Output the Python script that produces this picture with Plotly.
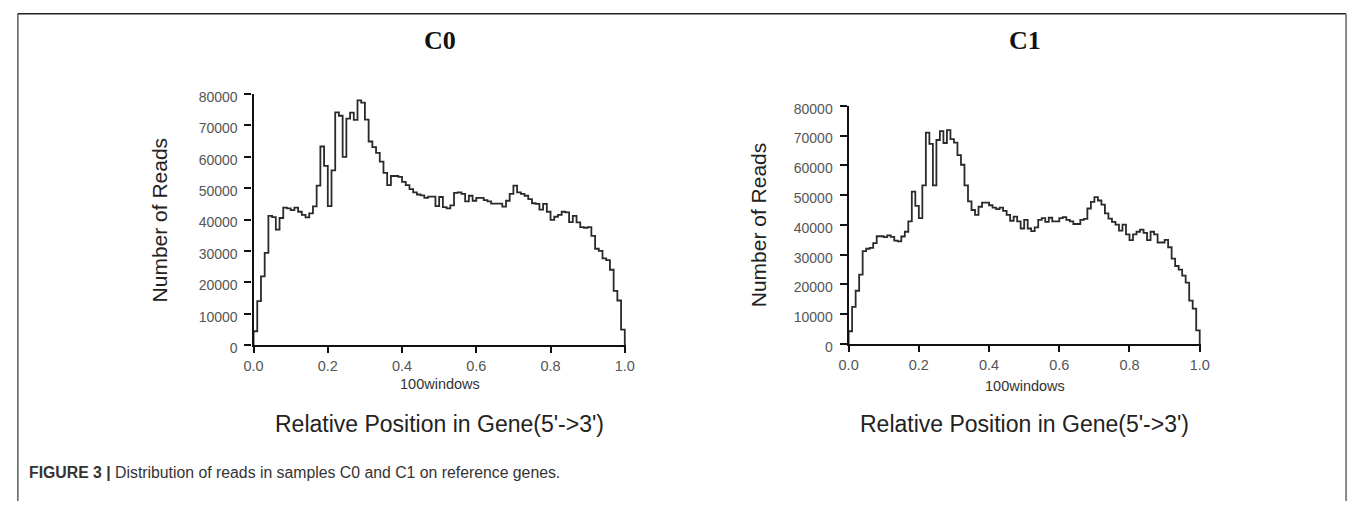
import numpy as np
import plotly.graph_objects as go

# ---------------- data (reads per window, 100 windows) ----------------
c0_reads = [
    4400, 14000, 21900, 29400, 41200, 40800, 36800, 40500, 43800, 43600,
    43000, 43800, 42500, 41500, 40700, 42000, 44200, 50800, 63300, 57100,
    44300, 55700, 74200, 73100, 60000, 72200, 74100, 71800, 78000, 77300,
    71900, 64900, 63100, 61300, 58500, 54900, 51000, 53900, 53900, 53600,
    52000, 51000, 49700, 48700, 48000, 47700, 46900, 47300, 47300, 44300,
    47200, 44000, 43600, 44500, 48500, 48700, 48200, 45800, 47600, 46000,
    46900, 46900, 46200, 45800, 45100, 45100, 45100, 44100, 46000, 48200,
    50800, 48700, 48200, 47600, 46500, 45200, 45000, 43200, 45000, 42500,
    39900, 40900, 41500, 42500, 42300, 39200, 41200, 39100, 37600, 37400,
    37600, 34800, 30700, 30000, 27600, 27100, 24000, 17300, 14200, 4900,
]

c1_reads = [
    4300, 12500, 17900, 23300, 31200, 32000, 32300, 33900, 36200, 36200,
    35900, 36500, 36000, 34700, 34500, 36100, 37700, 41200, 51200, 46400,
    42300, 53300, 71000, 67200, 53300, 68500, 71500, 67500, 71800, 68800,
    67600, 63400, 60200, 53300, 47900, 45000, 43400, 46100, 47500, 47500,
    46600, 45800, 45300, 45800, 44700, 43400, 41400, 42800, 41200, 38800,
    41700, 38800, 37900, 39200, 41700, 42300, 41000, 42400, 41200, 41200,
    42300, 42600, 41700, 41200, 40300, 40300, 41700, 42000, 45500, 47700,
    49300, 48200, 46800, 43900, 42100, 41000, 40100, 38100, 40100, 36800,
    34900, 36800, 37700, 38400, 37300, 34900, 37700, 36800, 34100, 34100,
    35000, 32500, 28700, 26200, 25000, 23000, 20600, 14600, 11900, 4600,
]

panel_titles = ["C0", "C1"]
n_windows = 100
x_ticks = [0.0, 0.2, 0.4, 0.6, 0.8, 1.0]
x_tick_text = ["0.0", "0.2", "0.4", "0.6", "0.8", "1.0"]
y_ticks = [0, 10000, 20000, 30000, 40000, 50000, 60000, 70000, 80000]
y_tick_text = [str(v) for v in y_ticks]
caption_bold = "FIGURE 3 |"
caption_text = " Distribution of reads in samples C0 and C1 on reference genes."

# ---------------- figure ----------------
W, H = 1360, 512
edges = list(np.arange(n_windows) / n_windows)

fig = go.Figure()


def step_trace(vals, xa, ya):
    xs = [0.0] + edges + [1.0]
    ys = [0] + list(vals) + [0]
    return go.Scatter(x=xs, y=ys, mode="lines", line_shape="hv",
                      line=dict(color="#2a2a2a", width=1.8),
                      xaxis=xa, yaxis=ya, showlegend=False, hoverinfo="skip")


fig.add_trace(step_trace(c0_reads, "x", "y"))
fig.add_trace(step_trace(c1_reads, "x2", "y2"))

# pixel geometry of the two panels
panels = [
    dict(x0=247, x1=625, ytop=92, ybot=351),
    dict(x0=850.5, x1=1208, ytop=104, ybot=350),
]

tickfont_x = dict(family="Liberation Sans, Arial", size=14.5, color="#555555")
tickfont_y = dict(family="Liberation Sans, Arial", size=14, color="#555555")

layout = dict(
    width=W, height=H,
    margin=dict(l=0, r=0, t=0, b=0),
    paper_bgcolor="white", plot_bgcolor="white",
    showlegend=False,
)

for i, p in enumerate(panels):
    sx = "" if i == 0 else str(i + 1)
    layout["xaxis" + sx] = dict(
        domain=[p["x0"] / W, p["x1"] / W],
        range=[0, 1.004],
        anchor="y" + sx,
        showgrid=False, zeroline=False,
        showline=True, linecolor="#111111", linewidth=2.2,
        ticks="outside", ticklen=6, tickwidth=1.5, tickcolor="#111111",
        tickvals=x_ticks, ticktext=x_tick_text, tickfont=tickfont_x,
        fixedrange=True,
    )
    layout["yaxis" + sx] = dict(
        domain=[(H - p["ybot"]) / H, (H - p["ytop"]) / H],
        range=[0, 80000],
        anchor="x" + sx,
        showgrid=False, zeroline=False,
        showline=True, linecolor="#111111", linewidth=2.2,
        ticks="outside", ticklen=7, tickwidth=1.5, tickcolor="#111111",
        tickvals=y_ticks, ticktext=y_tick_text, tickfont=tickfont_y,
        ticklabelshift=3, ticklabelstandoff=4,
        fixedrange=True,
    )

fig.update_layout(**layout)

ann = []
for i, p in enumerate(panels):
    cx = (p["x0"] + p["x1"]) / 2 / W
    ann.append(dict(text="<b>%s</b>" % panel_titles[i], x=cx, y=1 - 37 / H,
                    xref="paper", yref="paper", showarrow=False,
                    xanchor="center", yanchor="middle",
                    font=dict(family="Liberation Serif, Times New Roman", size=26, color="#111111")))
    ann.append(dict(text="100windows", x=cx, y=1 - (391 + i * 2) / H,
                    xref="paper", yref="paper", showarrow=False,
                    xanchor="center", yanchor="middle",
                    font=dict(family="Liberation Sans, Arial", size=14.5, color="#333333")))
    ann.append(dict(text="Relative Position in Gene(5'->3')", x=cx, y=1 - (432 + i) / H,
                    xref="paper", yref="paper", showarrow=False,
                    xanchor="center", yanchor="middle",
                    font=dict(family="Liberation Sans, Arial", size=23, color="#222222")))
    yc = 1 - ((p["ytop"] + p["ybot"]) / 2) / H
    ann.append(dict(text="Number of Reads", x=(152 if i == 0 else 760) / W, y=yc,
                    xref="paper", yref="paper", showarrow=False, textangle=-90,
                    xanchor="center", yanchor="middle",
                    font=dict(family="Liberation Sans, Arial", size=21, color="#222222")))

ann.append(dict(text="<b>%s</b>%s" % (caption_bold, caption_text), x=17 / W, y=1 - 483 / H,
                xref="paper", yref="paper", showarrow=False,
                xanchor="left", yanchor="middle",
                font=dict(family="Liberation Sans, Arial", size=15.8, color="#333333")))

fig.update_layout(annotations=ann)

fig.update_layout(shapes=[
    dict(type="line", xref="paper", yref="paper", x0=8 / W, x1=1355 / W, y0=1 - 9 / H, y1=1 - 9 / H,
         line=dict(color="#222222", width=1.5)),
    dict(type="line", xref="paper", yref="paper", x0=8 / W, x1=8 / W, y0=0, y1=1 - 9 / H,
         line=dict(color="#333333", width=1.2)),
    dict(type="line", xref="paper", yref="paper", x0=1355 / W, x1=1355 / W, y0=0, y1=1 - 9 / H,
         line=dict(color="#888888", width=2)),
])

fig.write_html(
    "out.html",
    config={"displayModeBar": False},
    post_script="document.body.style.margin='0';document.body.style.overflow='hidden';",
)
